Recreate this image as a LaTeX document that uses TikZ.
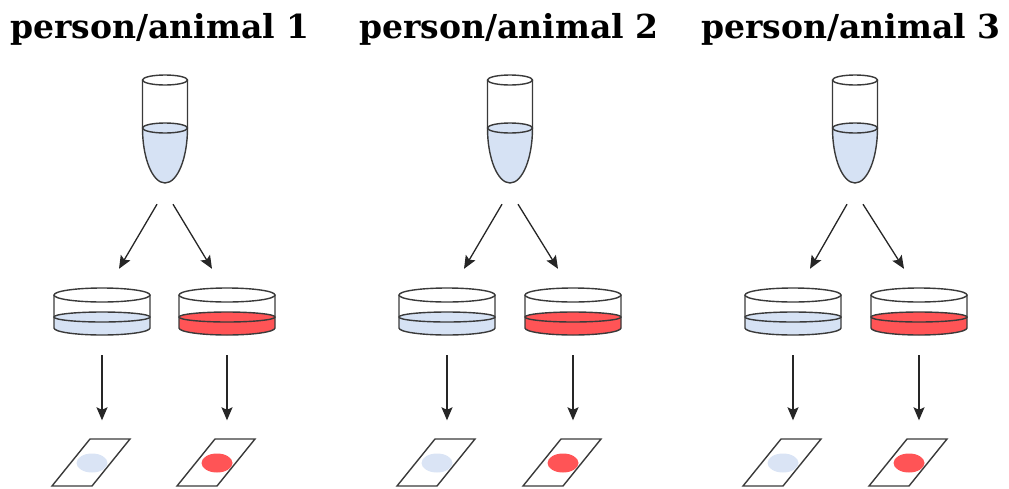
\documentclass[tikz,border=0pt]{standalone}
\usepackage{fontspec}
\newfontfamily\headfont{DejaVu Serif}
\usetikzlibrary{arrows.meta, positioning}

\definecolor{GlassGray}{HTML}{3A3A3A}
\definecolor{SampleBlue}{HTML}{D6E2F4}
\definecolor{SpotBlue}{HTML}{DAE4F5}
\definecolor{StainRed}{HTML}{FF5456}

\begin{document}
\begin{tikzpicture}[
        x=1pt, y=-1pt,
        head/.style={font=\headfont\bfseries\fontsize{33}{38}\selectfont, anchor=base, inner sep=0pt},
        tubebox/.style={inner sep=0pt, minimum width=45pt, minimum height=110pt},
        dishbox/.style={inner sep=0pt, minimum width=96pt, minimum height=47pt},
        slidebox/.style={inner sep=0pt, minimum width=79pt, minimum height=47pt},
        arr/.style={-{Stealth[length=13pt, width=11pt, inset=2.5pt]}, line width=1.3pt, black!85},
        glass/.style={draw=GlassGray, line width=1.4pt},
        pics/tube/.style={code={
            \fill[SampleBlue] (-22.5,-2) arc[start angle=180, end angle=0, x radius=22.5, y radius=55] -- cycle;
            \draw[glass] (-22.5,-50) -- (-22.5,-2) arc[start angle=180, end angle=0, x radius=22.5, y radius=55] -- (22.5,-50);
            \draw[glass] (0,-50) ellipse[x radius=22.5, y radius=5];
            \draw[glass, fill=SampleBlue] (0,-2) ellipse[x radius=22.5, y radius=5];
        }},
        pics/dish/.style={code={
            \fill[#1] (-48,5.5) -- (-48,16.5) arc[start angle=180, end angle=0, x radius=48, y radius=7] -- (48,5.5) -- cycle;
            \draw[glass] (-48,-16.5) -- (-48,16.5) arc[start angle=180, end angle=0, x radius=48, y radius=7] -- (48,-16.5);
            \draw[glass] (0,-16.5) ellipse[x radius=48, y radius=7];
            \draw[glass, fill=#1] (0,5.5) ellipse[x radius=48, y radius=5];
        }},
        pics/slide/.style={code={
            \draw[glass] (-2,-24) -- (38,-24) -- (0,23) -- (-40,23) -- cycle;
            \fill[#1] (0,0) ellipse[x radius=15.5, y radius=9.5];
        }}
    ]
        \useasboundingbox (0,0) rectangle (1009,488);

        % headings
        \node[head] (h1) at (160,38) {person/animal 1};
        \node[head] (h2) at (509,38) {person/animal 2};
        \node[head] (h3) at (851,38) {person/animal 3};

        % sample tubes
        \node[tubebox] (tube1) at (165,130) {};
        \node[tubebox] (tube2) at (510,130) {};
        \node[tubebox] (tube3) at (855,130) {};
        \pic at (tube1) {tube}; \pic at (tube2) {tube}; \pic at (tube3) {tube};

        % culture dishes
        \node[dishbox] (dish1l) at (102,311.5) {};
        \node[dishbox] (dish1r) at (227,311.5) {};
        \node[dishbox] (dish2l) at (447,311.5) {};
        \node[dishbox] (dish2r) at (573,311.5) {};
        \node[dishbox] (dish3l) at (793,311.5) {};
        \node[dishbox] (dish3r) at (919,311.5) {};
        \pic at (dish1l) {dish=SampleBlue}; \pic at (dish1r) {dish=StainRed};
        \pic at (dish2l) {dish=SampleBlue}; \pic at (dish2r) {dish=StainRed};
        \pic at (dish3l) {dish=SampleBlue}; \pic at (dish3r) {dish=StainRed};

        % slides
        \node[slidebox] (slide1l) at (92,463) {};
        \node[slidebox] (slide1r) at (217,463) {};
        \node[slidebox] (slide2l) at (437,463) {};
        \node[slidebox] (slide2r) at (563,463) {};
        \node[slidebox] (slide3l) at (783,463) {};
        \node[slidebox] (slide3r) at (909,463) {};
        \pic at (slide1l) {slide=SpotBlue}; \pic at (slide1r) {slide=StainRed};
        \pic at (slide2l) {slide=SpotBlue}; \pic at (slide2r) {slide=StainRed};
        \pic at (slide3l) {slide=SpotBlue}; \pic at (slide3r) {slide=StainRed};

        % tube -> dishes
        \draw[arr] ([xshift=-8pt, yshift=-19pt]tube1.south) -- ([xshift=17pt, yshift=19pt]dish1l.north);
        \draw[arr] ([xshift=8pt, yshift=-19pt]tube1.south) -- ([xshift=-15pt, yshift=19pt]dish1r.north);
        \draw[arr] ([xshift=-8pt, yshift=-19pt]tube2.south) -- ([xshift=17pt, yshift=19pt]dish2l.north);
        \draw[arr] ([xshift=8pt, yshift=-19pt]tube2.south) -- ([xshift=-15pt, yshift=19pt]dish2r.north);
        \draw[arr] ([xshift=-8pt, yshift=-19pt]tube3.south) -- ([xshift=17pt, yshift=19pt]dish3l.north);
        \draw[arr] ([xshift=8pt, yshift=-19pt]tube3.south) -- ([xshift=-15pt, yshift=19pt]dish3r.north);

        % dishes -> slides
        \draw[arr] ([yshift=-20pt]dish1l.south) -- ([xshift=10pt, yshift=19pt]slide1l.north);
        \draw[arr] ([yshift=-20pt]dish1r.south) -- ([xshift=10pt, yshift=19pt]slide1r.north);
        \draw[arr] ([yshift=-20pt]dish2l.south) -- ([xshift=10pt, yshift=19pt]slide2l.north);
        \draw[arr] ([yshift=-20pt]dish2r.south) -- ([xshift=10pt, yshift=19pt]slide2r.north);
        \draw[arr] ([yshift=-20pt]dish3l.south) -- ([xshift=10pt, yshift=19pt]slide3l.north);
        \draw[arr] ([yshift=-20pt]dish3r.south) -- ([xshift=10pt, yshift=19pt]slide3r.north);
    \end{tikzpicture}
\end{document}
